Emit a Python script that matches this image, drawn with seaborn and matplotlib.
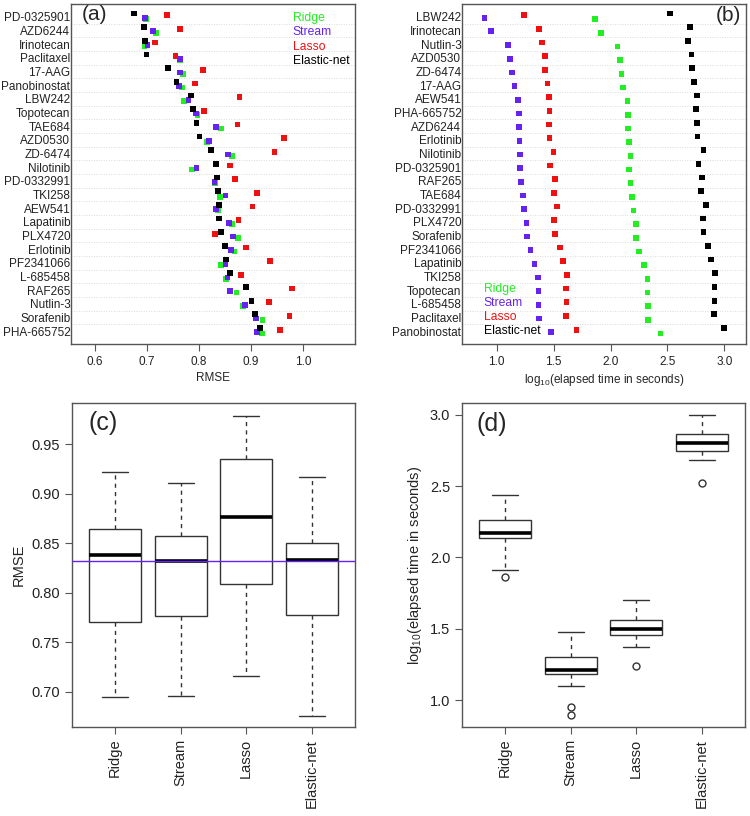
import numpy as np
import pandas as pd
import seaborn as sns
import matplotlib.pyplot as plt

methods = ["Ridge", "Stream", "Lasso", "Elastic-net"]
colors = ["#22ee22", "#6622ee", "#ee1111", "#000000"]

# (a) RMSE for each drug, sorted the way the panel shows them
drugs_rmse = ["PD-0325901", "AZD6244", "Irinotecan", "Paclitaxel", "17-AAG",
              "Panobinostat", "LBW242", "Topotecan", "TAE684", "AZD0530",
              "ZD-6474", "Nilotinib", "PD-0332991", "TKI258", "AEW541",
              "Lapatinib", "PLX4720", "Erlotinib", "PF2341066", "L-685458",
              "RAF265", "Nutlin-3", "Sorafenib", "PHA-665752"]
ridge_rmse = [0.698, 0.717, 0.695, 0.764, 0.769, 0.768, 0.771, 0.797, 0.843,
              0.816, 0.863, 0.786, 0.831, 0.841, 0.836, 0.863, 0.875, 0.868,
              0.843, 0.852, 0.872, 0.884, 0.922, 0.921]
stream_rmse = [0.696, 0.712, 0.701, 0.764, 0.764, 0.761, 0.780, 0.794, 0.832,
               0.819, 0.856, 0.795, 0.830, 0.851, 0.832, 0.857, 0.866, 0.862,
               0.851, 0.855, 0.859, 0.888, 0.909, 0.911]
lasso_rmse = [0.739, 0.764, 0.716, 0.755, 0.808, 0.793, 0.878, 0.809, 0.874,
              0.963, 0.945, 0.859, 0.869, 0.912, 0.903, 0.876, 0.831, 0.890,
              0.936, 0.881, 0.979, 0.935, 0.974, 0.956]
enet_rmse = [0.675, 0.694, 0.696, 0.699, 0.740, 0.757, 0.784, 0.789, 0.795,
             0.801, 0.823, 0.832, 0.834, 0.837, 0.838, 0.838, 0.843, 0.850,
             0.852, 0.860, 0.890, 0.901, 0.907, 0.917]

# (b) log10 elapsed time for each drug
drugs_time = ["LBW242", "Irinotecan", "Nutlin-3", "AZD0530", "ZD-6474",
              "17-AAG", "AEW541", "PHA-665752", "AZD6244", "Erlotinib",
              "Nilotinib", "PD-0325901", "RAF265", "TAE684", "PD-0332991",
              "PLX4720", "Sorafenib", "PF2341066", "Lapatinib", "TKI258",
              "Topotecan", "L-685458", "Paclitaxel", "Panobinostat"]
ridge_time = [1.861, 1.914, 2.060, 2.081, 2.095, 2.107, 2.148, 2.154, 2.154,
              2.160, 2.174, 2.163, 2.174, 2.189, 2.201, 2.224, 2.221, 2.253,
              2.291, 2.324, 2.324, 2.327, 2.330, 2.438]
stream_time = [0.892, 0.950, 1.097, 1.117, 1.135, 1.155, 1.190, 1.193, 1.196,
               1.199, 1.202, 1.205, 1.211, 1.231, 1.237, 1.261, 1.264, 1.296,
               1.331, 1.363, 1.366, 1.366, 1.369, 1.474]
lasso_time = [1.237, 1.369, 1.395, 1.422, 1.425, 1.445, 1.457, 1.463, 1.460,
              1.463, 1.498, 1.471, 1.510, 1.504, 1.530, 1.501, 1.510, 1.559,
              1.580, 1.618, 1.609, 1.612, 1.606, 1.700]
enet_time = [2.523, 2.701, 2.681, 2.710, 2.716, 2.736, 2.760, 2.751, 2.760,
             2.763, 2.816, 2.772, 2.804, 2.795, 2.839, 2.810, 2.816, 2.857,
             2.880, 2.918, 2.912, 2.912, 2.906, 2.997]

sns.set_style("ticks")
plt.rcParams["font.family"] = ["Liberation Sans", "DejaVu Sans"]
plt.rcParams["mathtext.fontset"] = "custom"
plt.rcParams["mathtext.rm"] = "Liberation Sans"
plt.rcParams["mathtext.default"] = "regular"

frame = "#555555"
offsets = {"Ridge": 0.17, "Stream": 0.07, "Lasso": -0.12, "Elastic-net": -0.24}


def style_axes(ax, fs):
    for sp in ax.spines.values():
        sp.set_visible(True)
        sp.set_color(frame)
        sp.set_linewidth(1)
    ax.tick_params(direction="out", length=5, width=0.8, color=frame,
                   labelsize=fs, labelcolor="#222222")


def dot_panel(ax, drugs, series, xlim, xticks, xlabel):
    rows = []
    for m, vals in zip(methods, series):
        for i, v in enumerate(vals):
            rows.append((m, v, i + offsets[m]))
    df = pd.DataFrame(rows, columns=["method", "value", "pos"])
    sns.scatterplot(data=df, x="value", y="pos", hue="method",
                    hue_order=methods, palette=colors, marker="s", s=17,
                    linewidth=0, legend=False, ax=ax, zorder=3)
    for k in range(len(drugs) - 1):
        ax.axhline(k + 0.5, color="#cfcfcf", lw=0.6, ls=(0, (1, 2)), zorder=0)
    ax.set_yticks(range(len(drugs)))
    ax.set_yticklabels(drugs)
    ax.set_ylim(len(drugs) - 1 + 0.93, -0.93)
    ax.set_xlim(*xlim)
    ax.set_xticks(xticks)
    ax.set_xticklabels([f"{t:.1f}" for t in xticks])
    ax.set_xlabel(xlabel, fontsize=8.5, labelpad=3)
    ax.set_ylabel("")
    style_axes(ax, 8.5)
    ax.tick_params(axis="y", length=0, pad=0.5)


def legend_text(ax, x, y, dy):
    for k, (m, c) in enumerate(zip(methods, colors)):
        ax.text(x, y - k * dy, m, color=c, fontsize=8.7, transform=ax.transAxes,
                ha="left", va="center")


def box_panel(ax, series, ylim, yticks, fmt, ylabel, whis=(1.5,) * 4):
    df = pd.DataFrame({"method": np.repeat(methods, [len(s) for s in series]),
                       "value": np.concatenate(series)})
    # R computes hinges a little differently, so the whisker reach is set per group
    for m, w in zip(methods, whis):
        sns.boxplot(data=df[df["method"] == m], x="method", y="value",
                    order=methods, width=0.8, whis=w, color="white",
                    linecolor="#333333", linewidth=1, fliersize=5, ax=ax,
                    medianprops=dict(color="black", linewidth=2.6),
                    whiskerprops=dict(linestyle=(0, (3, 3)), color="#333333"),
                    capprops=dict(color="#333333"),
                    flierprops=dict(marker="o", markerfacecolor="none",
                                    markeredgecolor="#333333", markersize=5))
    ax.set_xlim(-0.66, 3.66)
    ax.set_ylim(*ylim)
    ax.set_yticks(yticks)
    ax.set_yticklabels([fmt.format(t) for t in yticks])
    ax.set_xticks(range(4))
    ax.set_xticklabels(methods, rotation=90)
    ax.set_xlabel("")
    ax.set_ylabel(ylabel, fontsize=10.5)
    style_axes(ax, 10.5)


fig = plt.figure(figsize=(7.5, 8.16), dpi=100)
ax_a = fig.add_axes([0.0947, 0.5784, 0.3787, 0.4167])
ax_b = fig.add_axes([0.616, 0.5784, 0.3787, 0.4167])
ax_c = fig.add_axes([0.096, 0.1091, 0.3773, 0.397])
ax_d = fig.add_axes([0.616, 0.1091, 0.3773, 0.397])

dot_panel(ax_a, drugs_rmse, [ridge_rmse, stream_rmse, lasso_rmse, enet_rmse],
          (0.554, 1.10), [0.6, 0.7, 0.8, 0.9, 1.0], "RMSE")
legend_text(ax_a, 0.78, 0.958, 0.0418)
ax_a.text(0.083, 0.968, "(a)", fontsize=15, transform=ax_a.transAxes,
          ha="center", va="center")

dot_panel(ax_b, drugs_time, [ridge_time, stream_time, lasso_time, enet_time],
          (0.695, 3.19), [1.0, 1.5, 2.0, 2.5, 3.0],
          "log$_{10}$(elapsed time in seconds)")
legend_text(ax_b, 0.077, 0.162, 0.0412)
ax_b.text(0.937, 0.965, "(b)", fontsize=15, transform=ax_b.transAxes,
          ha="center", va="center")

box_panel(ax_c, [ridge_rmse, stream_rmse, lasso_rmse, enet_rmse],
          (0.6643, 0.9917), [0.70, 0.75, 0.80, 0.85, 0.90, 0.95], "{:.2f}",
          "RMSE")
ax_c.axhline(np.median(stream_rmse), color="#6622ee", lw=1, zorder=5)
ax_c.text(0.11, 0.939, "(c)", fontsize=18, transform=ax_c.transAxes,
          ha="center", va="center")

box_panel(ax_d, [ridge_time, stream_time, lasso_time, enet_time],
          (0.811, 3.082), [1.0, 1.5, 2.0, 2.5, 3.0], "{:.1f}",
          "log$_{10}$(elapsed time in seconds)", whis=(2.0, 1.5, 1.5, 1.5))
ax_d.text(0.106, 0.935, "(d)", fontsize=18, transform=ax_d.transAxes,
          ha="center", va="center")

fig.savefig("out.png", dpi=100, facecolor="white")
